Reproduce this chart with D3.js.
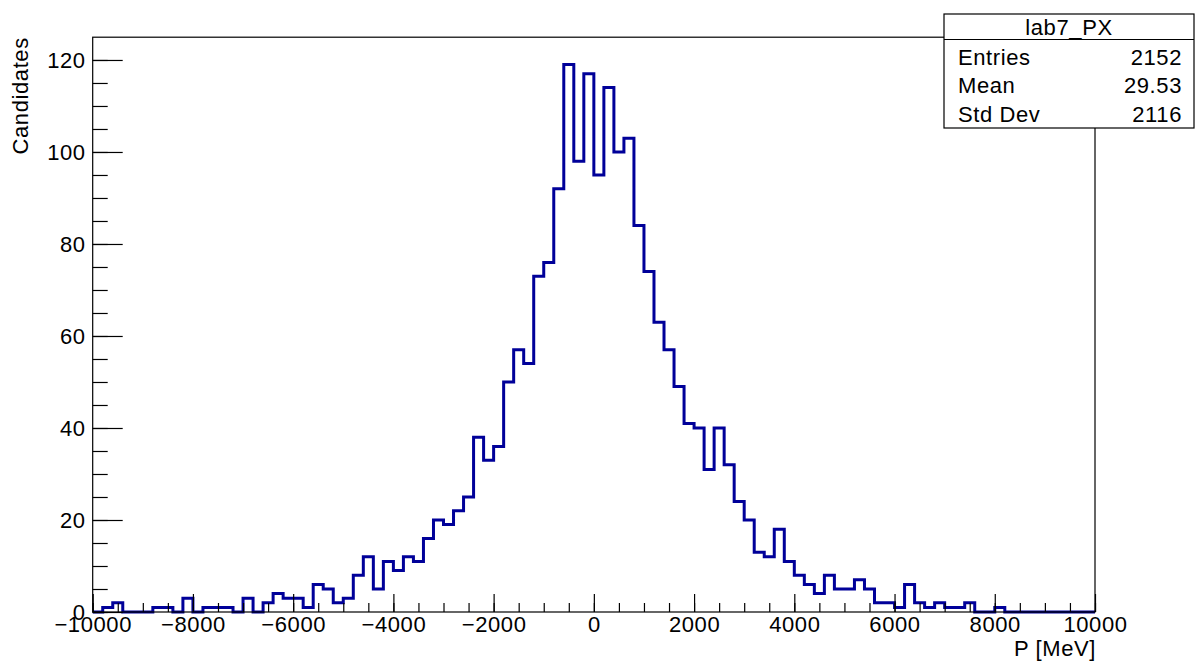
<!DOCTYPE html>
<html>
<head>
<meta charset="utf-8">
<script src="https://cdnjs.cloudflare.com/ajax/libs/d3/7.8.5/d3.min.js"></script>
<style>
  body { margin: 0; background: #fff; }
  text { font-family: "Liberation Sans", Arial, Helvetica, sans-serif; fill: #000; letter-spacing: 0.6px; }
</style>
</head>
<body>
<div id="hist"></div>
<script>
// lab7_PX histogram, 100 bins from -10000 to 10000 MeV
var binLow = -10000;
var binWidth = 200;
var counts = [
  0, 1, 2, 0, 0, 0, 1, 1, 0, 3,
  0, 1, 1, 1, 0, 3, 0, 2, 4, 3,
  3, 1, 6, 5, 2, 3, 8, 12, 5, 11,
  9, 12, 11, 16, 20, 19, 22, 25, 38, 33,
  36, 50, 57, 54, 73, 76, 92, 119, 98, 117,
  95, 114, 100, 103, 84, 74, 63, 57, 49, 41,
  40, 31, 40, 32, 24, 20, 13, 12, 18, 11,
  8, 6, 4, 8, 5, 5, 7, 5, 2, 2,
  1, 6, 2, 1, 2, 1, 1, 2, 0, 0,
  1, 0, 0, 0, 0, 0, 0, 0, 0, 0
];

var xMajorTicks = [-10000, -8000, -6000, -4000, -2000, 0, 2000, 4000, 6000, 8000, 10000];
var yMajorTicks = [0, 20, 40, 60, 80, 100, 120];

var statsTitle = "lab7_PX";
var statsLabels = ["Entries", "Mean", "Std Dev"];
var statsValues = ["2152", "29.53", "2116"];

var xTitle = "P [MeV]";
var yTitle = "Candidates";

var fontSize = "22px";

var svgWidth = 1196;
var svgHeight = 664;

var margin = {
  top: 37.2,
  right: 101,
  bottom: 52,
  left: 92.7
};

var width = svgWidth - margin.left - margin.right;
var height = svgHeight - margin.top - margin.bottom;

var svg = d3.select("#hist")
  .append("svg")
  .attr("width", svgWidth)
  .attr("height", svgHeight);

var chartGroup = svg.append("g")
  .attr("transform", `translate(${margin.left}, ${margin.top})`);

var xScale = d3.scaleLinear()
  .domain([-10000, 10000])
  .range([0, width]);

// ROOT puts the top of the frame at 1.05 * max
var yScale = d3.scaleLinear()
  .domain([0, d3.max(counts) * 1.05])
  .range([height, 0]);

// step outline of the histogram
var pts = [[xScale(binLow), yScale(0)]];
counts.forEach(function(c, i) {
  var x0 = xScale(binLow + i * binWidth);
  var x1 = xScale(binLow + (i + 1) * binWidth);
  pts.push([x0, yScale(c)]);
  pts.push([x1, yScale(c)]);
});
pts.push([xScale(binLow + counts.length * binWidth), yScale(0)]);

chartGroup.append("path")
  .attr("d", d3.line()(pts))
  .attr("fill", "none")
  .attr("stroke", "#000099")
  .attr("stroke-width", 3)
  .attr("stroke-linejoin", "miter");

// minor ticks
var xMinor = d3.range(-10000, 10001, 500);
var yMinor = d3.range(0, 125, 5);

chartGroup.append("g")
  .attr("transform", `translate(0, ${height})`)
  .call(d3.axisBottom(xScale).tickValues(xMinor).tickSize(-9).tickSizeOuter(0).tickFormat(""))
  .call(g => g.select(".domain").remove());

chartGroup.append("g")
  .call(d3.axisLeft(yScale).tickValues(yMinor).tickSize(-15).tickSizeOuter(0).tickFormat(""))
  .call(g => g.select(".domain").remove());

// major ticks + labels
var xAxis = chartGroup.append("g")
  .attr("transform", `translate(0, ${height})`)
  .call(d3.axisBottom(xScale).tickValues(xMajorTicks).tickSize(-18).tickSizeOuter(0)
    .tickPadding(4).tickFormat(d3.format("d")))
  .call(g => g.select(".domain").remove());

xAxis.selectAll("text")
  .attr("font-size", fontSize)
  .attr("font-family", "Liberation Sans, Arial, sans-serif")
  .attr("fill", "#000");

var yAxis = chartGroup.append("g")
  .call(d3.axisLeft(yScale).tickValues(yMajorTicks).tickSize(-30).tickSizeOuter(0)
    .tickPadding(7).tickFormat(d3.format("d")))
  .call(g => g.select(".domain").remove());

yAxis.selectAll("text")
  .attr("font-size", fontSize)
  .attr("font-family", "Liberation Sans, Arial, sans-serif")
  .attr("fill", "#000");

chartGroup.selectAll(".tick line")
  .attr("stroke", "#000")
  .attr("stroke-width", 1.2);

// frame
chartGroup.append("rect")
  .attr("x", 0)
  .attr("y", 0)
  .attr("width", width)
  .attr("height", height)
  .attr("fill", "none")
  .attr("stroke", "#000")
  .attr("stroke-width", 1.2);

// axis titles
chartGroup.append("text")
  .attr("x", width + 1)
  .attr("y", height + 44)
  .attr("text-anchor", "end")
  .attr("font-size", fontSize)
  .text(xTitle);

chartGroup.append("text")
  .attr("transform", "rotate(-90)")
  .attr("x", 0)
  .attr("y", 28 - margin.left)
  .attr("text-anchor", "end")
  .attr("font-size", fontSize)
  .text(yTitle);

// stats box
var box = svg.append("g")
  .attr("transform", "translate(944, 14)");

box.append("rect")
  .attr("width", 250)
  .attr("height", 114)
  .attr("fill", "#fff")
  .attr("stroke", "#000")
  .attr("stroke-width", 1.2);

box.append("line")
  .attr("x1", 0)
  .attr("x2", 250)
  .attr("y1", 25.5)
  .attr("y2", 25.5)
  .attr("stroke", "#000")
  .attr("stroke-width", 1.2);

box.append("text")
  .attr("x", 125)
  .attr("y", 20.5)
  .attr("text-anchor", "middle")
  .attr("font-size", fontSize)
  .text(statsTitle);

statsLabels.forEach(function(lab, i) {
  box.append("text")
    .attr("x", 14)
    .attr("y", 50.5 + i * 28.5)
    .attr("font-size", fontSize)
    .text(lab);
  box.append("text")
    .attr("x", 238)
    .attr("y", 50.5 + i * 28.5)
    .attr("text-anchor", "end")
    .attr("font-size", fontSize)
    .text(statsValues[i]);
});
</script>
</body>
</html>
